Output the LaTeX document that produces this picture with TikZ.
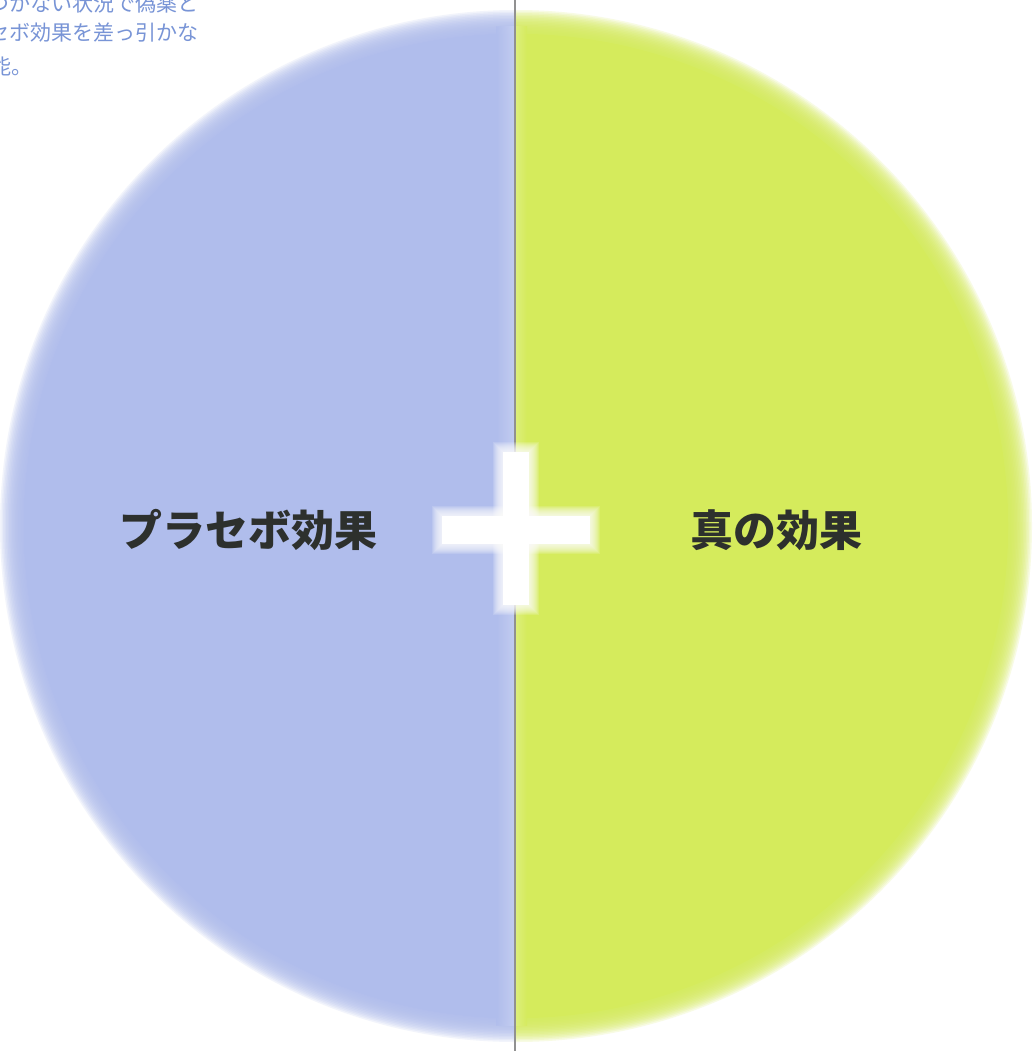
\documentclass[tikz,border=0pt]{standalone}
\usepackage{fontspec}
\newfontfamily\cjk{Noto Sans CJK JP}
\definecolor{bluC}{RGB}{176,189,236}
\definecolor{grnC}{RGB}{213,235,92}
\definecolor{capC}{RGB}{120,148,214}
\definecolor{labC}{RGB}{45,48,45}
\definecolor{seamC}{RGB}{145,145,145}
\tikzset{
  lab/.style={font=\cjk\bfseries\fontsize{43}{43}\selectfont, text=labC, inner sep=0pt},
  captext/.style={font=\cjk\fontsize{21}{21}\selectfont, text=capC, inner sep=0pt, anchor=east},
  softwhite/.style={white, opacity=0.14},
}
\begin{document}
\begin{tikzpicture}[x=1pt,y=-1pt]
\useasboundingbox (0,0) rectangle (1033,1051);
\clip (0,0) rectangle (1033,1051);
\fill[white] (0,0) rectangle (1033,1051);
% left half (blue)
\begin{scope}
  \clip (0,0) rectangle (515,1051);
  \fill[bluC] (516,526) circle [radius=492pt];
  \foreach \k [evaluate=\k as \rr using 492+1.5*\k] in {0,...,16}
    \fill[bluC, opacity=0.16] (516,526) circle [radius=\rr pt];
  \clip (516,526) circle [radius=500pt];
  \shade[left color=bluC, right color=bluC!70!white, opacity=0.8] (496,0) rectangle (515,1051);
\end{scope}
% right half (green)
\begin{scope}
  \clip (515,0) rectangle (1033,1051);
  \fill[grnC] (516,526) circle [radius=492pt];
  \foreach \k [evaluate=\k as \rr using 492+1.5*\k] in {0,...,16}
    \fill[grnC, opacity=0.16] (516,526) circle [radius=\rr pt];
  \clip (516,526) circle [radius=500pt];
  \shade[left color=grnC!75!white, right color=grnC, opacity=0.8] (515,0) rectangle (527,1051);
\end{scope}
% seam line
\draw[seamC, line width=1.3pt] (515,0) -- (515,1051);
% plus sign (soft white)
\foreach \k in {10,9,...,1}{
  \fill[softwhite] (503-\k,452-\k) rectangle (529+\k,605+\k);
  \fill[softwhite] (442-\k,516-\k) rectangle (590+\k,544+\k);
}
\fill[white] (503,452) rectangle (529,605);
\fill[white] (442,516) rectangle (590,544);
% labels
\node[lab] (placebo) at (248,530) {プラセボ効果};
\node[lab] (truefx) at (776,530) {真の効果};
% clipped caption text, top left
\node[captext] (c1) at (199,4) {つかない状況で偽薬と};
\node[captext] (c2) at (199,33) {プラセボ効果を差っ引かな};
\node[captext] (c3) at (33,67) {可能。};
\end{tikzpicture}
\end{document}
